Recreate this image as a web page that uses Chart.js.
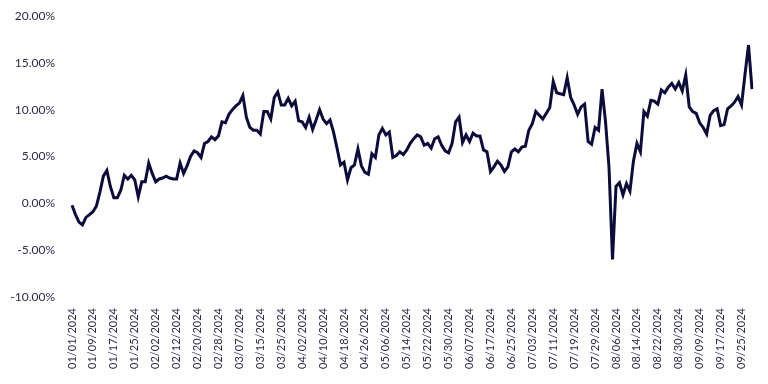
<!DOCTYPE html>
<html>
<head>
<meta charset="utf-8">
<script src="https://cdn.jsdelivr.net/npm/chart.js@4.4.1/dist/chart.umd.min.js"></script>
<style>
  html, body { margin: 0; padding: 0; background: #ffffff; }
  #wrap { width: 768px; height: 384px; }
</style>
</head>
<body>
<div id="wrap"><canvas id="c" width="768" height="384"></canvas></div>
<script>
// Trading dates (weekdays), MM/DD/YYYY
const dates = [
  "01/01/2024","01/02/2024","01/03/2024","01/04/2024","01/05/2024","01/08/2024","01/09/2024","01/10/2024","01/11/2024","01/12/2024","01/15/2024","01/16/2024","01/17/2024","01/18/2024","01/19/2024","01/22/2024","01/23/2024","01/24/2024","01/25/2024","01/26/2024","01/29/2024","01/30/2024","01/31/2024",
  "02/01/2024","02/02/2024","02/05/2024","02/06/2024","02/07/2024","02/08/2024","02/09/2024","02/12/2024","02/13/2024","02/14/2024","02/15/2024","02/16/2024","02/19/2024","02/20/2024","02/21/2024","02/22/2024","02/23/2024","02/26/2024","02/27/2024","02/28/2024","02/29/2024",
  "03/01/2024","03/04/2024","03/05/2024","03/06/2024","03/07/2024","03/08/2024","03/11/2024","03/12/2024","03/13/2024","03/14/2024","03/15/2024","03/18/2024","03/19/2024","03/20/2024","03/21/2024","03/22/2024","03/25/2024","03/26/2024","03/27/2024","03/28/2024","03/29/2024",
  "04/01/2024","04/02/2024","04/03/2024","04/04/2024","04/05/2024","04/08/2024","04/09/2024","04/10/2024","04/11/2024","04/12/2024","04/15/2024","04/16/2024","04/17/2024","04/18/2024","04/19/2024","04/22/2024","04/23/2024","04/24/2024","04/25/2024","04/26/2024","04/29/2024","04/30/2024",
  "05/01/2024","05/02/2024","05/03/2024","05/06/2024","05/07/2024","05/08/2024","05/09/2024","05/10/2024","05/13/2024","05/14/2024","05/15/2024","05/16/2024","05/17/2024","05/20/2024","05/21/2024","05/22/2024","05/23/2024","05/24/2024","05/27/2024","05/28/2024","05/29/2024","05/30/2024","05/31/2024",
  "06/03/2024","06/04/2024","06/05/2024","06/06/2024","06/07/2024","06/10/2024","06/11/2024","06/12/2024","06/13/2024","06/14/2024","06/17/2024","06/18/2024","06/19/2024","06/20/2024","06/21/2024","06/24/2024","06/25/2024","06/26/2024","06/27/2024","06/28/2024",
  "07/01/2024","07/02/2024","07/03/2024","07/04/2024","07/05/2024","07/08/2024","07/09/2024","07/10/2024","07/11/2024","07/12/2024","07/15/2024","07/16/2024","07/17/2024","07/18/2024","07/19/2024","07/22/2024","07/23/2024","07/24/2024","07/25/2024","07/26/2024","07/29/2024","07/30/2024","07/31/2024",
  "08/01/2024","08/02/2024","08/05/2024","08/06/2024","08/07/2024","08/08/2024","08/09/2024","08/12/2024","08/13/2024","08/14/2024","08/15/2024","08/16/2024","08/19/2024","08/20/2024","08/21/2024","08/22/2024","08/23/2024","08/26/2024","08/27/2024","08/28/2024","08/29/2024","08/30/2024",
  "09/02/2024","09/03/2024","09/04/2024","09/05/2024","09/06/2024","09/09/2024","09/10/2024","09/11/2024","09/12/2024","09/13/2024","09/16/2024","09/17/2024","09/18/2024","09/19/2024","09/20/2024","09/23/2024","09/24/2024","09/25/2024","09/26/2024","09/27/2024","09/30/2024"
];

// Cumulative return, percent
const returnsPct = [
  -0.2,-1.2,-2.0,-2.3,-1.5,-1.2,-0.9,-0.3,1.2,2.9,
  3.5,1.8,0.6,0.6,1.4,3.0,2.6,3.0,2.5,0.7,
  2.3,2.3,4.3,3.2,2.3,2.6,2.7,2.9,2.7,2.6,
  2.6,4.3,3.2,4.0,5.0,5.6,5.4,4.9,6.4,6.6,
  7.1,6.8,7.2,8.7,8.6,9.5,10.0,10.4,10.7,11.5,
  9.2,8.1,7.8,7.8,7.4,9.8,9.8,9.0,11.3,11.9,
  10.5,10.5,11.2,10.4,10.9,8.8,8.7,8.1,9.2,7.9,
  8.9,10.0,9.0,8.5,8.9,7.6,5.9,4.1,4.4,2.5,
  3.8,4.1,5.8,4.0,3.3,3.1,5.3,4.9,7.3,8.0,
  7.3,7.6,4.9,5.1,5.5,5.2,5.7,6.4,6.9,7.3,
  7.1,6.2,6.4,5.9,6.9,7.1,6.2,5.6,5.4,6.4,
  8.7,9.2,6.5,7.3,6.6,7.5,7.2,7.2,5.7,5.5,
  3.4,3.9,4.5,4.1,3.4,3.9,5.5,5.8,5.5,6.0,
  6.1,7.8,8.5,9.8,9.4,9.0,9.6,10.2,13.0,11.8,
  11.7,11.6,13.4,11.3,10.5,9.5,10.3,10.6,6.6,6.3,
  8.1,7.8,12.2,8.7,3.8,-6.0,1.8,2.2,0.9,2.1,
  1.3,4.5,6.4,5.5,9.8,9.3,11.0,10.9,10.6,12.1,
  11.8,12.4,12.8,12.2,12.9,12.0,13.7,10.3,9.8,9.6,
  8.6,8.1,7.4,9.4,9.9,10.1,8.3,8.4,10.1,10.4,
  10.8,11.4,10.5,13.8,16.9,12.2
];

// Y axis ticks (percent)
const yTicks = [-10, -5, 0, 5, 10, 15, 20];
const labelEvery = 6;

const textColor = '#2b2b4a';
const lineColor = '#0c0c3a';

new Chart(document.getElementById('c'), {
  type: 'line',
  data: {
    labels: dates,
    datasets: [{
      data: returnsPct,
      borderColor: lineColor,
      borderWidth: 3,
      pointRadius: 0,
      pointHoverRadius: 0,
      tension: 0,
      fill: false
    }]
  },
  options: {
    responsive: false,
    animation: false,
    events: [],
    layout: { padding: { top: 16, right: 16, bottom: 8, left: 0 } },
    plugins: { legend: { display: false }, tooltip: { enabled: false } },
    scales: {
      x: {
        afterFit: function (scale) { scale.height = 79; scale.paddingLeft = 0; scale.paddingRight = 0; },
        grid: { display: false, drawTicks: false },
        border: { display: false },
        ticks: {
          autoSkip: false,
          minRotation: 90,
          maxRotation: 90,
          padding: 11,
          color: textColor,
          font: { family: 'Lato', size: 11 },
          callback: function (v, i) { return i % labelEvery === 0 ? dates[i] : ''; }
        }
      },
      y: {
        min: yTicks[0],
        max: yTicks[yTicks.length - 1],
        afterBuildTicks: function (scale) { scale.ticks = yTicks.map(v => ({ value: v })); },
        afterFit: function (scale) { scale.width = 72; scale.paddingTop = 0; scale.paddingBottom = 0; },
        grid: { display: false, drawTicks: false },
        border: { display: false },
        ticks: {
          padding: 17,
          color: textColor,
          font: { family: 'Lato', size: 12 },
          callback: function (v) { return v.toFixed(2) + '%'; }
        }
      }
    }
  }
});
</script>
</body>
</html>
